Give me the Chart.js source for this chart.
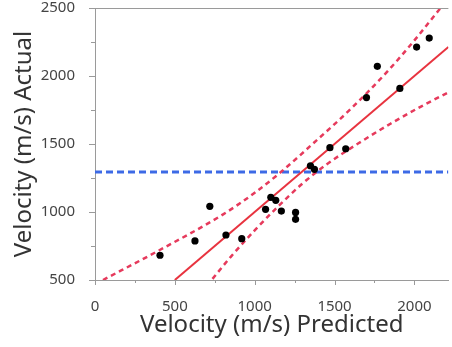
<!DOCTYPE html>
<html><head><meta charset="utf-8">
<script src="https://cdn.jsdelivr.net/npm/chart.js@4/dist/chart.umd.min.js"></script>
<style>html,body{margin:0;padding:0;background:#fff}#wrap{width:452px;height:347px}</style>
</head><body><div id="wrap"><canvas id="c" width="452" height="347"></canvas></div>
<script>
// Observations: predicted (x) vs actual (y) velocity, m/s
const predicted = [407, 626, 719, 820, 919, 1068, 1101, 1132, 1167, 1256, 1256, 1349, 1374, 1471, 1570, 1700, 1768, 1909, 2014, 2093];
const actual    = [682, 787, 1042, 831, 804, 1020, 1108, 1086, 1007, 997, 946, 1340, 1314, 1473, 1465, 1841, 2071, 1909, 2213, 2279];
// Fit line (solid red)
const fitX = [500, 2213];
const fitY = [500, 2213];
// Upper confidence curve (dashed red)
const upperX = [50, 400, 800, 1000, 1160, 1400, 1600, 1830, 2000, 2150, 2250];
const upperY = [500, 717, 981, 1141, 1290, 1540, 1756, 2032, 2262, 2480, 2625];
// Lower confidence curve (dashed red)
const lowerX = [700, 730, 850, 1000, 1150, 1300, 1450, 1650, 1850, 2050, 2250];
const lowerY = [457, 500, 670, 865, 1045, 1210, 1350, 1505, 1649, 1781, 1901];
// Mean of actual (dashed blue)
const meanX = [0, 2213];
const meanY = [1295, 1295];
// Axis ticks
const xTicks = [0, 500, 1000, 1500, 2000];
const yTicks = [500, 1000, 1500, 2000, 2500];
const xRange = [0, 2213];
const yRange = [500, 2500];

const pts = (xs, ys) => xs.map((x, i) => ({x, y: ys[i]}));
const AXIS = '#9a9a9a';
const FONT = 'Noto Sans';

const tickPlugin = {
  id: 'ticks',
  afterDraw(chart) {
    const {ctx, chartArea: a, scales: {x, y}} = chart;
    ctx.save();
    ctx.strokeStyle = AXIS; ctx.lineWidth = 1;
    ctx.beginPath();
    ctx.moveTo(a.left, a.top + 0.5); ctx.lineTo(a.right, a.top + 0.5);
    for (let v = xRange[0]; v <= xRange[1]; v += 250) {
      const p = Math.round(x.getPixelForValue(v)) + 0.5;
      const len = (v % 500 === 0) ? 5 : 3;
      ctx.moveTo(p, a.bottom); ctx.lineTo(p, a.bottom + len);
    }
    for (let v = yRange[0]; v <= yRange[1]; v += 250) {
      const p = Math.round(y.getPixelForValue(v)) + 0.5;
      const len = (v % 500 === 0) ? 6 : 4;
      ctx.moveTo(a.left, p); ctx.lineTo(a.left - len, p);
    }
    ctx.stroke();
    ctx.restore();
  }
};

new Chart(document.getElementById('c'), {
  type: 'scatter',
  data: {
    datasets: [
      {label: 'Actual', data: pts(predicted, actual), pointRadius: 3.6, pointHoverRadius: 3.6,
       backgroundColor: '#000', borderColor: '#000', borderWidth: 0, showLine: false},
      {label: 'Fit', type: 'line', data: pts(fitX, fitY), borderColor: '#e8333f', borderWidth: 2,
       pointRadius: 0, fill: false, clip: 0},
      {label: 'Upper', type: 'line', data: pts(upperX, upperY), borderColor: '#e63a5c', borderWidth: 2.5,
       borderDash: [5, 4], pointRadius: 0, fill: false, cubicInterpolationMode: 'monotone', clip: 0},
      {label: 'Lower', type: 'line', data: pts(lowerX, lowerY), borderColor: '#e63a5c', borderWidth: 2.5,
       borderDash: [5, 4], pointRadius: 0, fill: false, cubicInterpolationMode: 'monotone', clip: 0},
      {label: 'Mean', type: 'line', data: pts(meanX, meanY), borderColor: '#3d6ae6', borderWidth: 3,
       borderDash: [7, 4], pointRadius: 0, fill: false, clip: 0}
    ]
  },
  options: {
    responsive: false, animation: false,
    layout: {padding: {top: 8, right: 0, left: 0, bottom: 0}},
    plugins: {legend: {display: false}, tooltip: {enabled: false}},
    scales: {
      x: {
        type: 'linear', min: xRange[0], max: xRange[1],
        afterFit(s) { s.height = 67; s.paddingLeft = 0; s.paddingRight = 0; },
        afterBuildTicks(s) { s.ticks = xTicks.map(v => ({value: v})); },
        ticks: {font: {size: 15, family: FONT}, color: '#444', padding: 10, maxRotation: 0, autoSkip: false,
                callback: v => String(v)},
        grid: {display: false},
        border: {display: true, color: AXIS, width: 1},
        title: {display: true, text: 'Velocity (m/s) Predicted', font: {size: 24, family: FONT}, color: '#333',
                padding: {top: 0, bottom: 7}}
      },
      y: {
        type: 'linear', min: yRange[0], max: yRange[1],
        afterFit(s) { s.width = 95; s.paddingTop = 0; s.paddingBottom = 0; },
        afterBuildTicks(s) { s.ticks = yTicks.map(v => ({value: v})); },
        ticks: {font: {size: 15, family: FONT}, color: '#444', padding: 12, autoSkip: false,
                callback: v => String(v)},
        grid: {display: false},
        border: {display: true, color: AXIS, width: 1},
        title: {display: true, text: 'Velocity (m/s) Actual', font: {size: 24, family: FONT}, color: '#333',
                padding: {top: 10, bottom: 0}}
      }
    }
  },
  plugins: [tickPlugin]
});
</script>
</body></html>
